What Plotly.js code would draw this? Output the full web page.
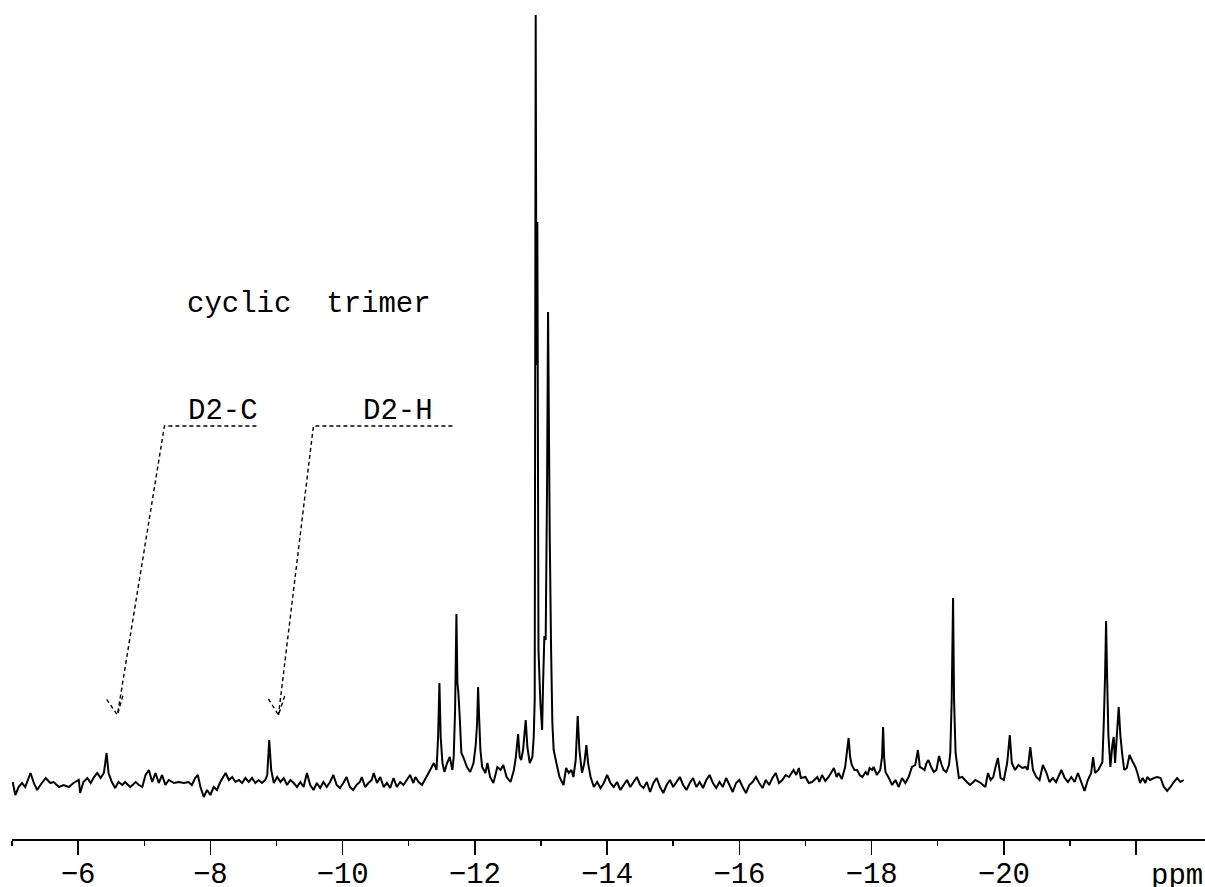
<!DOCTYPE html>
<html>
<head>
<meta charset="utf-8">
<script src="https://cdn.plot.ly/plotly-3.0.1.min.js"></script>
<style>
  html, body { margin: 0; padding: 0; background: #fff; }
  #plot { width: 1205px; height: 887px; }
</style>
</head>
<body>
<div id="plot"></div>
<script>
// 29Si NMR spectrum: chemical shift (ppm) and intensity (arbitrary units, baseline = 0)

// -5 to -9.4 ppm: baseline with the D2-C (-6.43) and D2-H (-8.89) signals
const shiftsLow = [
  [-5.01,3],[-5.05,-10],[-5.10,-2],[-5.15,2],[-5.20,-2],[-5.28,12],[-5.33,2],[-5.38,-5],[-5.43,0],[-5.51,7],
  [-5.58,2],[-5.63,3],[-5.71,-2],[-5.78,0],[-5.86,-2],[-5.93,2],[-6.01,5],[-6.03,-8],[-6.08,3],[-6.14,7],
  [-6.19,2],[-6.24,8],[-6.29,12],[-6.34,7],[-6.39,12],[-6.43,32],[-6.46,12],[-6.51,3],[-6.56,-3],[-6.61,3],
  [-6.67,0],[-6.71,3],[-6.79,-2],[-6.87,3],[-6.92,0],[-6.97,-2],[-7.02,10],[-7.07,15],[-7.12,3],[-7.17,12],
  [-7.22,2],[-7.27,10],[-7.32,0],[-7.37,5],[-7.45,2],[-7.52,3],[-7.60,2],[-7.67,3],[-7.72,0],[-7.77,7],
  [-7.81,10],[-7.85,-2],[-7.90,-12],[-7.95,-5],[-8.00,-10],[-8.05,-2],[-8.10,-5],[-8.15,3],[-8.23,12],[-8.28,5],
  [-8.33,8],[-8.38,3],[-8.43,5],[-8.48,2],[-8.53,7],[-8.58,3],[-8.63,7],[-8.68,2],[-8.73,5],[-8.78,2],
  [-8.83,5],[-8.86,10],[-8.89,45],[-8.92,15],[-8.96,2],[-9.01,8],[-9.06,3],[-9.11,7],[-9.16,0],[-9.21,5],
  [-9.26,2],[-9.31,-2],[-9.36,3]
];

// -9.4 to -11.1 ppm: baseline
const shiftsBaseline1 = [
  [-9.41,-2],[-9.46,12],[-9.51,0],[-9.56,-5],[-9.61,2],[-9.66,-3],[-9.71,3],[-9.76,-2],[-9.81,3],[-9.86,10],
  [-9.91,0],[-9.96,-3],[-10.01,2],[-10.06,8],[-10.11,-2],[-10.16,-5],[-10.21,0],[-10.26,3],[-10.29,8],[-10.34,-2],
  [-10.39,2],[-10.44,5],[-10.47,12],[-10.52,2],[-10.57,8],[-10.62,-2],[-10.67,2],[-10.72,-3],[-10.77,7],[-10.82,-2],
  [-10.87,3],[-10.92,0],[-10.97,5],[-11.02,10],[-11.07,2]
];

// -11.1 to -14.6 ppm: cyclic trimer region
const shiftsTrimer = [
  [-11.10,8],[-11.15,3],[-11.20,0],[-11.25,6],[-11.30,12],[-11.34,17],[-11.38,22],[-11.42,15],[-11.444,48],[-11.464,102],
  [-11.483,48],[-11.51,22],[-11.54,13],[-11.58,22],[-11.62,28],[-11.66,15],[-11.68,28],[-11.701,75],[-11.721,171],[-11.736,102],
  [-11.751,92],[-11.771,68],[-11.796,32],[-11.83,27],[-11.88,18],[-11.93,13],[-11.98,22],[-12.013,40],[-12.034,62],[-12.049,98],
  [-12.064,68],[-12.084,35],[-12.11,18],[-12.16,12],[-12.19,22],[-12.23,8],[-12.28,2],[-12.34,18],[-12.39,15],[-12.43,20],
  [-12.48,8],[-12.54,3],[-12.59,15],[-12.62,28],[-12.654,51],[-12.678,28],[-12.70,25],[-12.729,35],[-12.769,65],[-12.794,38],
  [-12.83,22],[-12.87,28],[-12.89,48],[-12.905,85],[-12.920,770],[-12.932,420],[-12.945,563],[-12.962,135],[-12.991,82],[-13.017,55],
  [-13.032,102],[-13.051,149],[-13.071,145],[-13.092,300],[-13.107,473],[-13.132,250],[-13.153,135],[-13.172,62],[-13.192,35],[-13.233,22],
  [-13.28,8],[-13.34,0],[-13.38,17],[-13.42,12],[-13.46,15],[-13.49,8],[-13.525,25],[-13.555,69],[-13.581,35],[-13.62,12],
  [-13.656,22],[-13.687,40],[-13.712,22],[-13.75,8],[-13.80,-2],[-13.85,3],[-13.90,-3],[-13.95,2],[-14.00,10],[-14.05,2],
  [-14.10,-2],[-14.15,3],[-14.20,-5],[-14.25,0],[-14.30,5],[-14.35,-2],[-14.40,3],[-14.45,8],[-14.50,0],[-14.55,-3]
];

// -14.6 to -16.8 ppm: baseline
const shiftsBaseline2 = [
  [-14.60,3],[-14.65,-7],[-14.70,2],[-14.75,7],[-14.80,-2],[-14.85,-8],[-14.90,0],[-14.95,5],[-15.00,-2],[-15.05,3],
  [-15.10,8],[-15.15,0],[-15.20,-5],[-15.25,2],[-15.30,7],[-15.35,-2],[-15.40,3],[-15.45,-3],[-15.50,5],[-15.55,10],
  [-15.60,2],[-15.65,-3],[-15.70,3],[-15.75,-2],[-15.80,7],[-15.85,0],[-15.90,-7],[-15.95,2],[-16.00,5],[-16.05,-2],
  [-16.10,-8],[-16.15,0],[-16.20,3],[-16.25,8],[-16.30,2],[-16.35,-3],[-16.40,5],[-16.45,0],[-16.50,7],[-16.55,12],
  [-16.60,2],[-16.65,5],[-16.70,10],[-16.75,8]
];

// -16.8 to -22.7 ppm: higher oligomer signals
const shiftsHigh = [
  [-16.82,15],[-16.86,10],[-16.90,17],[-16.93,7],[-17.00,8],[-17.05,2],[-17.10,3],[-17.18,8],[-17.21,3],[-17.25,10],
  [-17.30,4],[-17.35,8],[-17.43,17],[-17.47,8],[-17.50,12],[-17.55,6],[-17.60,18],[-17.63,35],[-17.653,47],[-17.675,28],
  [-17.70,20],[-17.74,15],[-17.78,15],[-17.82,10],[-17.86,8],[-17.91,13],[-17.94,10],[-17.97,17],[-18.01,15],[-18.03,18],
  [-18.08,10],[-18.13,15],[-18.158,28],[-18.174,58],[-18.189,28],[-18.21,13],[-18.26,7],[-18.31,0],[-18.36,5],[-18.41,-2],
  [-18.46,7],[-18.51,2],[-18.56,8],[-18.61,18],[-18.66,20],[-18.70,35],[-18.73,18],[-18.76,17],[-18.80,15],[-18.83,22],
  [-18.86,25],[-18.90,18],[-18.94,13],[-18.98,15],[-19.00,22],[-19.02,29],[-19.06,20],[-19.09,15],[-19.13,13],[-19.17,20],
  [-19.19,32],[-19.211,85],[-19.232,187],[-19.247,85],[-19.27,32],[-19.32,7],[-19.37,8],[-19.44,3],[-19.49,0],[-19.57,5],
  [-19.65,2],[-19.72,-2],[-19.76,12],[-19.80,5],[-19.84,8],[-19.87,17],[-19.91,27],[-19.95,7],[-20.00,5],[-20.05,22],
  [-20.09,50],[-20.12,22],[-20.17,15],[-20.22,20],[-20.28,17],[-20.33,18],[-20.36,15],[-20.40,38],[-20.44,15],[-20.49,8],
  [-20.54,5],[-20.59,20],[-20.64,13],[-20.69,3],[-20.74,7],[-20.79,3],[-20.87,15],[-20.92,7],[-20.97,3],[-21.02,8],
  [-21.07,3],[-21.12,12],[-21.17,3],[-21.22,-6],[-21.27,5],[-21.32,12],[-21.35,28],[-21.38,12],[-21.43,15],[-21.49,23],
  [-21.510,60],[-21.531,110],[-21.546,164],[-21.561,110],[-21.581,50],[-21.611,18],[-21.641,40],[-21.661,48],[-21.682,22],[-21.709,50],
  [-21.737,78],[-21.762,50],[-21.788,32],[-21.82,15],[-21.86,17],[-21.90,30],[-21.95,23],[-21.99,18],[-22.02,12],[-22.06,2],
  [-22.10,7],[-22.14,2],[-22.17,8],[-22.21,5],[-22.27,7],[-22.32,8],[-22.37,7],[-22.42,-2],[-22.47,-6],[-22.52,-2],
  [-22.57,3],[-22.62,7],[-22.67,3],[-22.72,5]
];

// axis ticks
const majorTicks = [-6, -8, -10, -12, -14, -16, -18, -20, -22];
const majorTickLabels = ['\u22126', '\u22128', '\u221210', '\u221212', '\u221214', '\u221216', '\u221218', '\u221220', ''];
const minorTicks = [-5, -7, -9, -11, -13, -15, -17, -19, -21];
const axisUnit = 'ppm';

// assignment labels with their dashed leader lines
const assignments = [
  { text: 'D2-C', labelShift: -8.185, tip: [-6.594, 70], knee: [-7.305, 359], end: [-8.696, 359] },
  { text: 'D2-H', labelShift: -10.845, tip: [-9.03, 70], knee: [-9.558, 359], end: [-11.66, 359] }
];
const spectrumTitle = 'cyclic\u00a0\u00a0trimer';

// ---------------------------------------------------------------------------
const W = 1205, H = 887;
const margin = { l: 12, r: 0, t: 0, b: 48 };
const xRange = [-5, -23.042];
const yRange = [-54, 785];
const FONT = 'Liberation Mono, Courier New, monospace';

const spectrum = [].concat(shiftsLow, shiftsBaseline1, shiftsTrimer, shiftsBaseline2, shiftsHigh);

const trace = {
  type: 'scatter',
  mode: 'lines',
  x: spectrum.map(p => p[0]),
  y: spectrum.map(p => p[1]),
  line: { color: '#000', width: 2, simplify: false },
  hoverinfo: 'skip'
};

// pixel scales of the plot area, used to size the arrow heads
const plotW = W - margin.l - margin.r;
const plotH = H - margin.t - margin.b;
const pxPerPpm = plotW / (xRange[0] - xRange[1]);
const pxPerUnit = plotH / (yRange[1] - yRange[0]);

const dashLine = { color: '#000', width: 1.4, dash: '4px,3px' };
const shapes = [];
const annotations = [];

assignments.forEach(a => {
  // leader: horizontal under the label, then slanted down to the peak
  shapes.push({
    type: 'path', xref: 'x', yref: 'y', layer: 'above',
    path: `M ${a.end[0]} ${a.end[1]} L ${a.knee[0]} ${a.knee[1]} L ${a.tip[0]} ${a.tip[1]}`,
    line: dashLine
  });
  // open arrow head at the tip
  const dxp = (a.tip[0] - a.knee[0]) * pxPerPpm;
  const dyp = (a.knee[1] - a.tip[1]) * pxPerUnit;
  const len = Math.hypot(dxp, dyp);
  const ux = dxp / len, uy = dyp / len;
  const ang = 25 * Math.PI / 180, armLen = 20;
  const arms = [ang, -ang].map(t => {
    const rx = ux * Math.cos(t) - uy * Math.sin(t);
    const ry = ux * Math.sin(t) + uy * Math.cos(t);
    return [a.tip[0] + rx * armLen / pxPerPpm, a.tip[1] + ry * armLen / pxPerUnit];
  });
  shapes.push({
    type: 'path', xref: 'x', yref: 'y', layer: 'above',
    path: `M ${arms[0][0]} ${arms[0][1]} L ${a.tip[0]} ${a.tip[1]} L ${arms[1][0]} ${arms[1][1]}`,
    line: dashLine
  });
  annotations.push({
    text: a.text, xref: 'x', yref: 'y', x: a.labelShift, y: 374,
    xanchor: 'center', yanchor: 'middle', showarrow: false, borderpad: 0,
    font: { family: FONT, size: 29, color: '#000' }
  });
});

annotations.push({
  text: spectrumTitle, xref: 'x', yref: 'y', x: -7.628, y: 481,
  xanchor: 'left', yanchor: 'middle', showarrow: false, borderpad: 0,
  font: { family: FONT, size: 29, color: '#000' }
});
// unit label beside the last (unlabelled) major tick, below the axis
annotations.push({
  text: axisUnit, xref: 'x', yref: 'paper', x: -22.62, y: (-(876 - plotH) / plotH),
  xanchor: 'center', yanchor: 'middle', showarrow: false, borderpad: 0,
  font: { family: FONT, size: 29, color: '#000' }
});

const layout = {
  width: W, height: H,
  margin: margin,
  paper_bgcolor: '#fff', plot_bgcolor: '#fff',
  showlegend: false,
  xaxis: {
    range: xRange, autorange: false, fixedrange: true,
    showgrid: false, zeroline: false,
    showline: true, linecolor: '#000', linewidth: 2,
    ticks: 'outside', ticklen: 14, tickwidth: 1.5, tickcolor: '#000',
    tickmode: 'array', tickvals: majorTicks, ticktext: majorTickLabels,
    ticklabelstandoff: -7,
    tickfont: { family: FONT, size: 29, color: '#000' },
    minor: { tickmode: 'array', tickvals: minorTicks, ticks: 'outside', ticklen: 5, tickwidth: 1.5, tickcolor: '#000', showgrid: false }
  },
  yaxis: { range: yRange, autorange: false, visible: false, fixedrange: true },
  shapes: shapes,
  annotations: annotations
};

Plotly.newPlot('plot', [trace], layout, { staticPlot: true, displayModeBar: false });
</script>
</body>
</html>
